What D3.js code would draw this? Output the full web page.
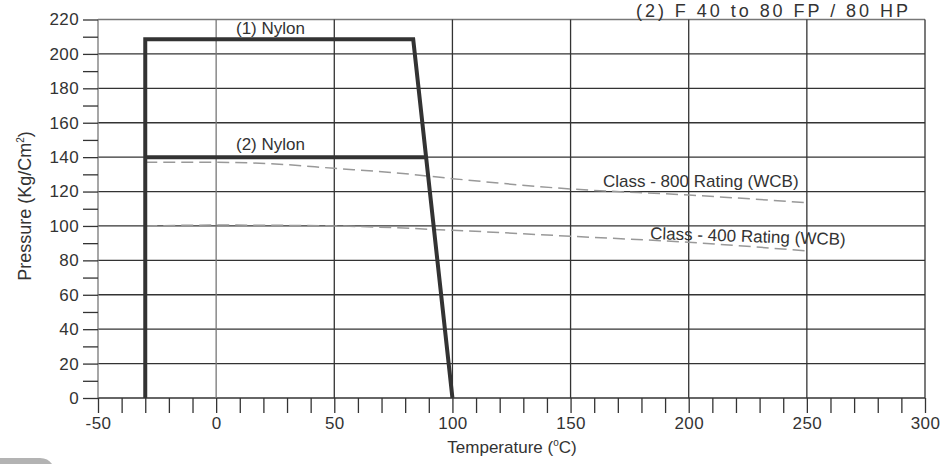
<!DOCTYPE html>
<html lang="en">
<head>
  <meta charset="UTF-8">
  <title>Pressure vs Temperature</title>
  <script src="https://cdn.jsdelivr.net/npm/d3@7"></script>
  <style>
    body { margin: 0; background: #fff; }
    svg { display: block; font-family: "Liberation Sans", Arial, sans-serif; }
    svg text { fill: #333; }
  </style>
</head>
<body>
  <div id="chart"></div>
  <script>
    // Axis ticks
    const xMajor = [-50, 0, 50, 100, 150, 200, 250, 300];
    const yMajor = [0, 20, 40, 60, 80, 100, 120, 140, 160, 180, 200, 220];

    // Nylon seat limits (temperature, pressure)
    const nylon1 = [[-30, 0], [-30, 208.5], [83.4, 208.5], [100, 0]];
    const nylon2 = [[-30, 140], [88.9, 140]];

    // Body ratings (dashed)
    const class800 = [[-30, 137], [0, 137], [25, 136], [50, 133.5], [75, 131], [100, 127.5], [150, 121.5], [200, 118], [250, 113.5]];
    const class400 = [[-30, 100], [0, 100.5], [50, 100], [100, 97.5], [150, 94], [200, 90.5], [250, 85.5]];

    const width = 942, height = 464;
    const margin = { left: 98, right: 17, top: 19.5, bottom: 66 };

    const svg = d3.select('#chart').append('svg')
      .attr('width', width)
      .attr('height', height);

    const x = d3.scaleLinear().domain([-50, 300]).range([margin.left, width - margin.right]);
    const y = d3.scaleLinear().domain([0, 220]).range([height - margin.bottom, margin.top]);

    // Grid lines
    svg.append('g')
      .selectAll('line')
      .data(yMajor)
      .enter().append('line')
        .attr('x1', x(-50)).attr('x2', x(300))
        .attr('y1', d => y(d)).attr('y2', d => y(d))
        .style('stroke', d => d === 220 ? '#777' : '#333')
        .style('stroke-width', 1.3);

    svg.append('g')
      .selectAll('line')
      .data(xMajor)
      .enter().append('line')
        .attr('x1', d => x(d)).attr('x2', d => x(d))
        .attr('y1', y(0)).attr('y2', y(220))
        .style('stroke', d => d === -50 || d === 0 ? '#777' : '#333')
        .style('stroke-width', 1.3);

    // Axes with minor ticks every 10
    const xAxis = d3.axisBottom(x)
      .tickValues(d3.range(-50, 301, 10))
      .tickSize(15)
      .tickFormat(d => xMajor.includes(d) ? d : '');
    const gx = svg.append('g')
      .attr('transform', `translate(0,${y(0)})`)
      .call(xAxis);

    const yAxis = d3.axisLeft(y)
      .tickValues(d3.range(0, 221, 10))
      .tickSize(15)
      .tickFormat(d => yMajor.includes(d) ? d : '');
    const gy = svg.append('g')
      .attr('transform', `translate(${x(-50)},0)`)
      .call(yAxis);

    [gx, gy].forEach(g => {
      g.attr('font-size', 17).attr('font-family', '"Liberation Sans", Arial, sans-serif');
      g.select('.domain').remove();
      g.selectAll('.tick line').style('stroke', '#333').style('stroke-width', 1.3);
      g.selectAll('.tick text')
        .attr('fill', '#333')
        .style('font-size', '17px')
        .style('letter-spacing', '0.4px');
    });
    gx.selectAll('.tick text').attr('y', 19).attr('dy', '0.71em');
    gy.selectAll('.tick text').attr('x', -19);

    // Dashed rating curves
    const curve = d3.line()
      .x(d => x(d[0]))
      .y(d => y(d[1]))
      .curve(d3.curveMonotoneX);

    [class800, class400].forEach(data => {
      svg.append('path')
        .datum(data)
        .attr('d', curve)
        .style('fill', 'none')
        .style('stroke', '#999')
        .style('stroke-width', 1.5)
        .style('stroke-dasharray', '12,6');
    });

    // Nylon limits
    const straight = d3.line().x(d => x(d[0])).y(d => y(d[1]));
    [nylon1, nylon2].forEach(data => {
      svg.append('path')
        .datum(data)
        .attr('d', straight)
        .style('fill', 'none')
        .style('stroke', '#333')
        .style('stroke-width', 4)
        .style('stroke-linejoin', 'miter');
    });

    // Labels
    svg.append('text')
      .attr('x', x(23)).attr('y', y(208.5) - 5)
      .attr('text-anchor', 'middle')
      .style('font-size', '17px')
      .text('(1) Nylon');

    svg.append('text')
      .attr('x', x(23)).attr('y', y(140) - 7)
      .attr('text-anchor', 'middle')
      .style('font-size', '17px')
      .text('(2) Nylon');

    svg.append('text')
      .attr('x', 603).attr('y', 187)
      .style('font-size', '17px')
      .text('Class - 800 Rating (WCB)');

    svg.append('text')
      .attr('x', 650).attr('y', 239)
      .attr('transform', 'rotate(1.8 650 239)')
      .style('font-size', '17px')
      .text('Class - 400 Rating (WCB)');

    // Heading at top right (cropped in the source)
    svg.append('text')
      .attr('x', 636).attr('y', 17)
      .attr('textLength', 272)
      .style('font-size', '18px')
      .text('(2) F  40 to 80 FP / 80 HP');

    // Axis titles
    const yt = svg.append('text')
      .attr('transform', 'translate(31,206) rotate(-90)')
      .attr('text-anchor', 'middle')
      .style('font-size', '18px');
    yt.append('tspan').text('Pressure (Kg/Cm');
    yt.append('tspan').attr('dy', -7).style('font-size', '10px').text('2');
    yt.append('tspan').attr('dy', 7).text(')');

    const xt = svg.append('text')
      .attr('x', 512).attr('y', 453)
      .attr('text-anchor', 'middle')
      .style('font-size', '17px');
    xt.append('tspan').text('Temperature (');
    xt.append('tspan').attr('dy', -7).style('font-size', '10px').text('o');
    xt.append('tspan').attr('dy', 7).text('C)');

    // Grey tab at bottom left
    svg.append('path')
      .attr('d', 'M0,458 L40,458 Q48,458 52,464 L0,464 Z')
      .style('fill', '#b3b3b3');
  </script>
</body>
</html>
